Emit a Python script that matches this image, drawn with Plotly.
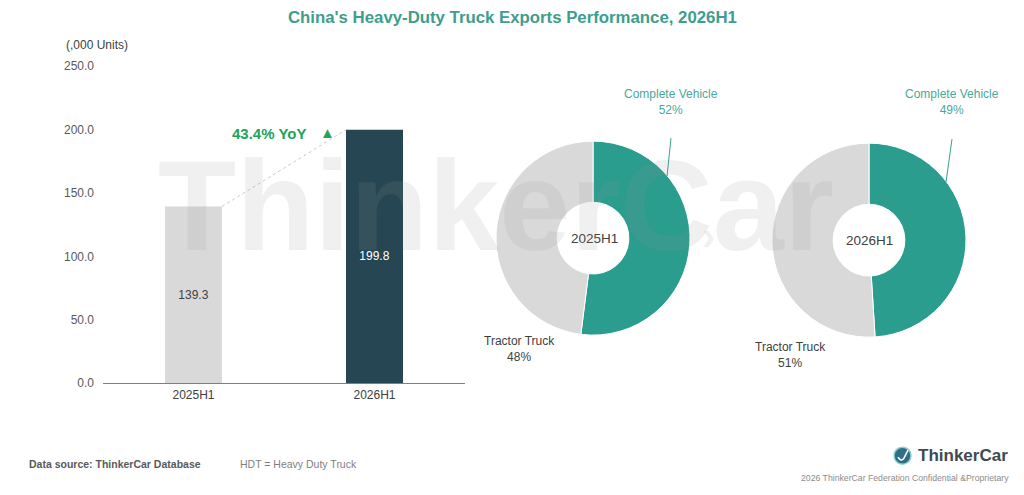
import plotly.graph_objects as go

# ---- data ----
periods = ["2025H1", "2026H1"]
exports = [139.3, 199.8]               # ,000 units
pie_labels = ["Complete Vehicle", "Tractor Truck"]
share_2025 = [52, 48]
share_2026 = [49, 51]
y_ticks = [0, 50, 100, 150, 200, 250]

W, H = 1024, 495
FONT = "Arial, Liberation Sans, sans-serif"
TEAL = "#2a9d8f"
GRAY = "#d9d9d9"
DARK = "#264653"

# empirical compensation for the capture's vertical fit
Y_S, Y_B = 0.9716, 6.9

def px(x):
    return x / W

def py(y):
    return 1 - ((y - Y_B) / Y_S) / H

bar_w = 0.315
fig = go.Figure()

fig.add_trace(go.Bar(
    x=periods, y=exports, width=bar_w,
    marker=dict(color=[GRAY, DARK], line=dict(width=0)),
    texttemplate="%{y:.1f}", textposition="inside", insidetextanchor="middle",
    textfont=dict(color=["#404040", "#ffffff"], size=12, family=FONT),
    xaxis="x", yaxis="y", showlegend=False,
))

pie_common = dict(
    labels=pie_labels, sort=False, direction="clockwise", rotation=0,
    hole=0.37, textinfo="none", showlegend=False,
    marker=dict(colors=[TEAL, GRAY], line=dict(color="white", width=1)),
)
fig.add_trace(go.Pie(values=share_2025,
                     domain=dict(x=[px(496), px(690)], y=[py(335), py(141)]),
                     **pie_common))
fig.add_trace(go.Pie(values=share_2026,
                     domain=dict(x=[px(772), px(966)], y=[py(337), py(143)]),
                     **pie_common))

yoy = (exports[1] / exports[0] - 1) * 100

fig.update_layout(
    width=W, height=H,
    margin=dict(l=0, r=0, t=0, b=0),
    paper_bgcolor="white", plot_bgcolor="white",
    font=dict(family=FONT, color="#595959", size=12),
    xaxis=dict(domain=[px(103), px(465)], range=[-0.5, 1.5],
               showline=True, linecolor="#7f7f7f", linewidth=1,
               showgrid=False, ticks="", tickfont=dict(size=12, color="#404040"),
               fixedrange=True),
    yaxis=dict(domain=[py(383), py(66)], range=[0, 250],
               tickvals=y_ticks, tickformat=".1f", showgrid=False,
               showline=False, zeroline=False, ticks="", ticklabelstandoff=8,
               tickfont=dict(size=12, color="#595959")),
)

# dashed growth connector between bar tops
fig.add_shape(type="line", xref="x", yref="y",
              x0=0 + bar_w / 2, y0=exports[0], x1=1 - bar_w / 2, y1=exports[1],
              line=dict(color="#c8c8c8", width=1, dash="dot"))

ann = []
# title
ann.append(dict(x=0.5, y=py(17), xref="paper", yref="paper", showarrow=False,
                text="<b>China's Heavy-Duty Truck Exports Performance, 2026H1</b>",
                font=dict(size=16.8, color="#3d9e8e", family=FONT),
                xanchor="center", yanchor="middle"))
ann.append(dict(x=px(97), y=py(45), xref="paper", yref="paper", showarrow=False,
                text="(,000 Units)", font=dict(size=12, color="#404040"),
                xanchor="center", yanchor="middle"))
# YoY
ann.append(dict(x=px(309), y=py(133), xref="paper", yref="paper", showarrow=False,
                text=f"<b>{yoy:.1f}% YoY</b>", font=dict(size=15, color="#22a35a"),
                xanchor="right", yanchor="middle"))
ann.append(dict(x=px(327), y=py(132), xref="paper", yref="paper", showarrow=False,
                text="▲", font=dict(size=15, color="#22a35a"),
                xanchor="center", yanchor="middle"))

# pie center labels
for cx, cy, lab in [(594, 238, periods[0]), (869, 240, periods[1])]:
    ann.append(dict(x=px(cx), y=py(cy), xref="paper", yref="paper", showarrow=False,
                    text=lab, font=dict(size=13.5, color="#404040"),
                    xanchor="center", yanchor="middle"))

# pie outside labels
for cx, vals in [(671, share_2025), (952, share_2026)]:
    ann.append(dict(x=px(cx), y=py(102), xref="paper", yref="paper", showarrow=False,
                    text=f"{pie_labels[0]}<br>{vals[0]}%",
                    font=dict(size=12, color="#4aa89a"),
                    xanchor="center", yanchor="middle"))
for cx, cy, vals in [(519, 349, share_2025), (790, 355, share_2026)]:
    ann.append(dict(x=px(cx), y=py(cy), xref="paper", yref="paper", showarrow=False,
                    text=f"{pie_labels[1]}<br>{vals[1]}%",
                    font=dict(size=12, color="#404040"),
                    xanchor="center", yanchor="middle"))

# leader lines
for (x0, y0, x1, y1) in [(671, 138, 667, 176), (952, 139, 946, 182)]:
    fig.add_shape(type="line", xref="paper", yref="paper",
                  x0=px(x0), y0=py(y0), x1=px(x1), y1=py(y1),
                  line=dict(color="#3a9e8e", width=1))

# watermark
WM = "rgba(150,150,150,0.14)"
ann.append(dict(x=px(496), y=py(205), xref="paper", yref="paper", showarrow=False,
                text="<b>ThinkerCar</b>",
                font=dict(size=128, color=WM, family=FONT),
                xanchor="center", yanchor="middle"))
ann.append(dict(x=px(708), y=py(236), xref="paper", yref="paper", showarrow=False,
                text="<b>›</b>", font=dict(size=40, color=WM, family=FONT),
                xanchor="center", yanchor="middle"))

# footer
ann.append(dict(x=px(27), y=py(464), xref="paper", yref="paper", showarrow=False,
                text="<b>Data source: ThinkerCar Database</b>",
                font=dict(size=10.5, color="#595959"), xanchor="left", yanchor="middle"))
ann.append(dict(x=px(238), y=py(464), xref="paper", yref="paper", showarrow=False,
                text="HDT = Heavy Duty Truck",
                font=dict(size=10.5, color="#7f7f7f"), xanchor="left", yanchor="middle"))
ann.append(dict(x=px(1010), y=py(455), xref="paper", yref="paper", showarrow=False,
                text="<b>ThinkerCar</b>",
                font=dict(size=17, color="#3f4a50"), xanchor="right", yanchor="middle"))
ann.append(dict(x=px(1011), y=py(478), xref="paper", yref="paper", showarrow=False,
                text="2026 ThinkerCar Federation Confidential &amp;Proprietary",
                font=dict(size=8.7, color="#8c8c8c"), xanchor="right", yanchor="middle"))

# logo icon
fig.add_shape(type="circle", xref="paper", yref="paper",
              x0=px(894), y0=py(464), x1=px(911), y1=py(447),
              fillcolor="#2f6f86", line=dict(color="#8fd0cf", width=1.5))
fig.add_shape(type="path", xref="paper", yref="paper",
              path=f"M {px(898)},{py(457)} Q {px(901)},{py(462)} {px(904)},{py(458)} L {px(908)},{py(450)}",
              line=dict(color="white", width=1.6))

fig.update_layout(annotations=ann)
fig.write_html("out.html", config={"displayModeBar": False},
               post_script="document.body.style.margin='0';document.body.style.padding='0';document.documentElement.style.overflow='hidden';")
